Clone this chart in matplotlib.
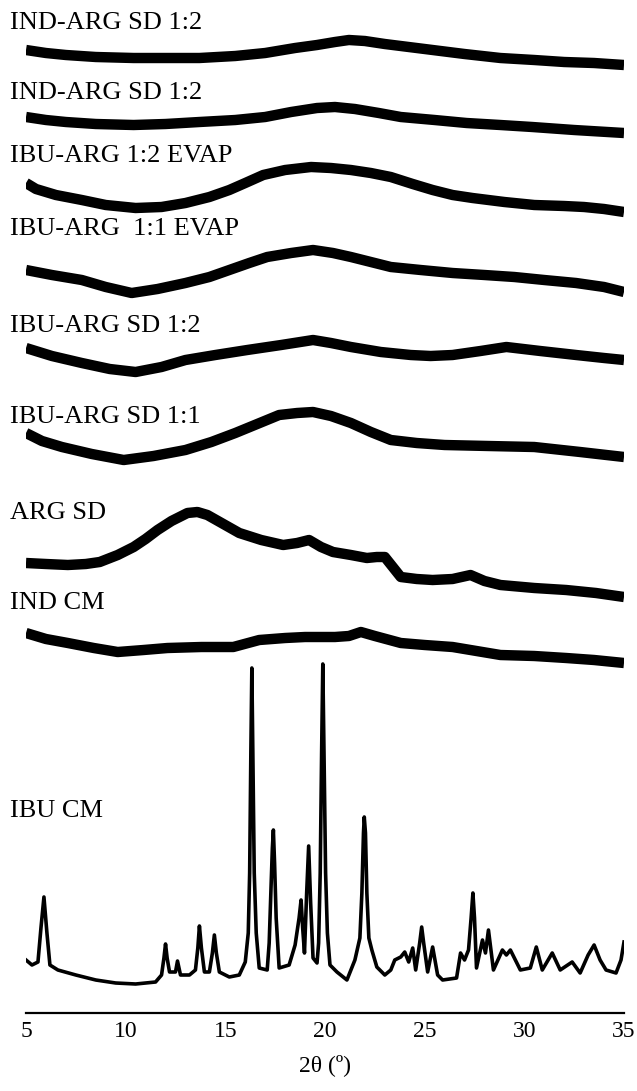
import numpy as np
import matplotlib.pyplot as plt

plt.rcParams['font.family'] = ['Liberation Serif', 'DejaVu Serif']

# stacked diffractograms, intensity in arbitrary units (offsets already applied)
labels = ['IND-ARG SD 1:2', 'IND-ARG SD 1:2', 'IBU-ARG 1:2 EVAP', 'IBU-ARG  1:1 EVAP',
          'IBU-ARG SD 1:2', 'IBU-ARG SD 1:1', 'ARG SD', 'IND CM', 'IBU CM']
label_y = [984, 914, 851, 778, 681, 590, 494, 404, 196]

t1_x = [5, 6, 7, 8.5, 10.4, 12, 13.7, 15.5, 17, 18.5, 19.6, 20.5, 21.2, 22, 23,
        24.2, 25.4, 27, 28.8, 30.5, 32, 33.5, 35]
t1_y = [963, 960, 958, 956, 955, 955, 955, 957, 960, 965, 968, 971, 973, 972, 969,
        966, 963, 959, 955, 953, 951, 950, 948]

t2_x = [5, 6, 7, 8.5, 10.4, 12, 13.7, 15.5, 17, 18.3, 19.6, 20.5, 21.5, 22.7, 23.8,
        25.5, 27.1, 28.8, 30.4, 32.5, 35]
t2_y = [896, 893, 891, 889, 888, 889, 891, 893, 896, 901, 905, 906, 904, 900, 896,
        893, 890, 888, 886, 883, 880]

t3_x = [5, 5.5, 6.5, 7.8, 9, 10.5, 11.8, 13, 14.2, 15.2, 16, 16.9, 18, 19.3, 20.3,
        21.3, 22.3, 23.3, 24.4, 25.4, 26.4, 27.4, 29, 30.5, 32, 33, 34, 35]
t3_y = [830, 824, 818, 813, 808, 805, 806, 810, 816, 823, 830, 838, 843, 846, 845,
        843, 840, 836, 829, 823, 818, 815, 811, 808, 807, 806, 804, 801]

t4_x = [5, 6.3, 7.8, 9, 10.3, 11.6, 13, 14.2, 15.2, 16.2, 17.1, 18.3, 19.4, 20.4,
        21.3, 22.3, 23.3, 24.8, 26.4, 28, 29.5, 31, 32.6, 34, 35]
t4_y = [743, 738, 733, 726, 720, 724, 730, 736, 743, 750, 756, 760, 763, 760,
        756, 751, 746, 743, 740, 738, 736, 733, 730, 726, 721]

t5_x = [5, 6.3, 7.8, 9.2, 10.5, 11.8, 13, 14.5, 16.1, 17.8, 19.4, 20.3, 21.3, 22.8,
        24.3, 25.3, 26.4, 27.8, 29.1, 30.8, 32.6, 34, 35]
t5_y = [665, 657, 650, 644, 641, 646, 653, 658, 663, 668, 673, 670, 666, 661,
        658, 657, 658, 662, 666, 662, 658, 655, 653]

t6_x = [5, 5.8, 6.8, 8.3, 9.9, 11.4, 13, 14.3, 15.5, 16.6, 17.7, 18.6, 19.4, 20.3,
        21.3, 22.3, 23.3, 24.6, 26, 28.2, 30.5, 32.8, 35]
t6_y = [580, 572, 566, 559, 553, 557, 563, 571, 580, 589, 598, 600, 601, 597,
        590, 581, 573, 570, 568, 567, 566, 561, 556]

t7_x = [5, 6, 7.1, 8, 8.7, 9.6, 10.4, 11, 11.6, 12.3, 13.1, 13.6, 14.1, 14.9, 15.7,
        16.8, 17.9, 18.6, 19.2, 19.8, 20.4, 21.3, 22.1, 22.6, 23.0, 23.4, 23.8,
        24.6, 25.4, 26.4, 27.3, 28, 28.8, 30.5, 32.1, 33.6, 35]
t7_y = [450, 449, 448, 449, 451, 458, 466, 474, 483, 492, 500, 501, 498, 489, 480,
        473, 468, 470, 473, 466, 461, 458, 455, 456, 456, 446, 436,
        434, 433, 434, 438, 432, 428, 425, 423, 420, 416]

t8_x = [5, 6, 7.1, 8.4, 9.6, 10.9, 12.1, 13.8, 15.4, 16.7, 18, 19, 20.5, 21.2, 21.8,
        22.5, 23.8, 25, 26.4, 27.6, 28.8, 30.5, 32.1, 33.5, 35]
t8_y = [380, 374, 370, 365, 361, 363, 365, 366, 366, 373, 375, 376, 376, 377, 381,
        377, 370, 368, 366, 362, 358, 357, 355, 353, 350]

ibu_x = [5.0, 5.3, 5.6, 5.75, 5.9, 6.05, 6.2, 6.6, 7.5, 8.5, 9.5, 10.5, 11.5, 11.8,
         11.92, 12.0, 12.08, 12.2, 12.5, 12.6, 12.75, 13.2, 13.5, 13.62, 13.7, 13.8,
         13.95, 14.2, 14.35, 14.45, 14.55, 14.7, 15.2, 15.7, 16.0, 16.15, 16.22, 16.28,
         16.33, 16.38, 16.45, 16.55, 16.7, 17.1, 17.2, 17.3, 17.36, 17.41, 17.47, 17.55,
         17.7, 18.2, 18.5, 18.7, 18.8, 18.88, 18.97, 19.08, 19.18, 19.28, 19.4, 19.6,
         19.68, 19.76, 19.83, 19.89, 19.95, 20.03, 20.12, 20.25, 20.6, 21.1, 21.5, 21.75,
         21.85, 21.93, 21.97, 22.03, 22.1, 22.2, 22.35, 22.6, 23.0, 23.3, 23.5, 23.8,
         24.0, 24.2, 24.4, 24.55, 24.75, 24.85, 24.95, 25.15, 25.4, 25.65, 25.9, 26.6,
         26.8, 27.0, 27.2, 27.33, 27.42, 27.5, 27.6, 27.9, 28.05, 28.2, 28.45, 28.9,
         29.1, 29.3, 29.8, 30.3, 30.6, 30.9, 31.4, 31.8, 32.4, 32.8, 33.2, 33.5, 33.8,
         34.1, 34.6, 34.85, 35.0]
ibu_y = [53, 48, 51, 85, 116, 80, 48, 43, 38, 33, 30, 29, 31, 38,
         55, 69, 55, 41, 41, 52, 38, 38, 43, 65, 87, 65,
         41, 41, 60, 78, 60, 41, 36, 38, 51, 80, 140, 260,
         345, 260, 140, 80, 45, 43, 70, 130, 165, 183, 150, 95,
         45, 48, 68, 95, 113, 85, 60, 120, 167, 110, 55, 50,
         70, 140, 260, 349, 260, 140, 80, 48, 41, 33, 53, 75,
         120, 180, 196, 180, 120, 75, 63, 46, 38, 43, 53, 56,
         61, 51, 65, 43, 70, 86, 70, 41, 66, 38, 33, 35,
         60, 53, 63, 95, 120, 95, 45, 73, 60, 83, 43, 63,
         58, 63, 43, 45, 66, 43, 60, 43, 51, 40, 58, 68, 53,
         43, 40, 53, 71]

amorphous = [(t1_x, t1_y), (t2_x, t2_y), (t3_x, t3_y), (t4_x, t4_y),
             (t5_x, t5_y), (t6_x, t6_y), (t7_x, t7_y), (t8_x, t8_y)]

fig = plt.figure(figsize=(6.37, 10.91), dpi=100)
ax = fig.add_axes([26 / 637, 78 / 1091, 598 / 637, 1013 / 1091])

for xs, ys in amorphous:
    ax.plot(xs, ys, color='black', lw=7.5, solid_joinstyle='round', solid_capstyle='butt')
ax.plot(ibu_x, ibu_y, color='black', lw=2.6, solid_joinstyle='round')

for lab, ly in zip(labels, label_y):
    ax.text(4.2, ly, lab, fontsize=19, ha='left', va='baseline', clip_on=False)

ax.set_xlim(5, 35)
ax.set_ylim(0, 1013)
ax.set_xticks([5, 10, 15, 20, 25, 30, 35])
ax.set_yticks([])
for s in ['top', 'right', 'left']:
    ax.spines[s].set_visible(False)
ax.spines['bottom'].set_linewidth(1.6)
ax.tick_params(axis='x', length=0, labelsize=17, pad=6)
fig.text(325 / 637, 1 - 1065 / 1091, '2θ (º)', fontsize=17, ha='center', va='center')

fig.savefig('out.png', dpi=100)
